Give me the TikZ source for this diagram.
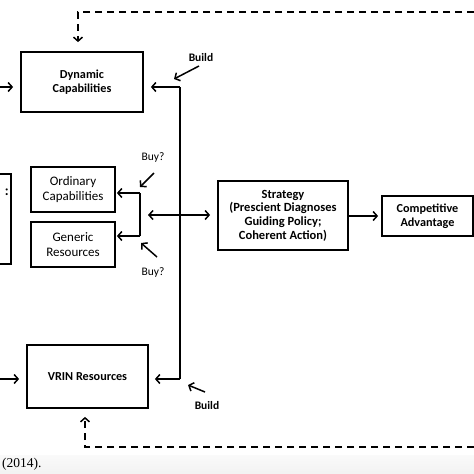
\documentclass[tikz,border=0pt]{standalone}
\usepackage{fontspec}
\setmainfont{Carlito}
\newfontfamily\capfont{Liberation Serif}
\usetikzlibrary{arrows.meta}
\begin{document}
\begin{tikzpicture}[x=1pt,y=-1pt,
  boxb/.style={draw,line width=1.8pt,align=center,inner sep=0pt,font=\fontsize{12.2}{14}\selectfont\bfseries},
  boxr/.style={draw,line width=1.8pt,align=center,inner sep=0pt,font=\fontsize{13}{15}\selectfont},
  lbl/.style={font=\fontsize{11.5}{13}\selectfont\bfseries,inner sep=0pt},
  conn/.style={line width=1.5pt,-{Straight Barb[length=4pt,width=9pt,line width=1.5pt]}},
  dconn/.style={conn,dash pattern=on 7pt off 5pt},
  plain/.style={line width=1.5pt}]
\useasboundingbox (0,0) rectangle (474,474);
\clip (0,0) rectangle (474,474);
\fill[white] (0,0) rectangle (474,474);
\shade[top color=gray!4,bottom color=gray!10] (0,455) rectangle (474,474);
% boxes
\node[boxb,minimum width=122pt,minimum height=60pt] (dc) at (82,82) {Dynamic\\Capabilities};
\node[boxr,minimum width=84pt,minimum height=45pt] (oc) at (73,189.5) {Ordinary\\Capabilities};
\node[boxr,minimum width=84pt,minimum height=45pt] (gr) at (73,244.5) {Generic\\Resources};
\node[boxb,minimum width=130pt,minimum height=69pt,font=\fontsize{12.5}{13.7}\selectfont\bfseries] (st) at (283,215.5) {Strategy\\(Prescient Diagnoses\\Guiding Policy;\\Coherent Action)};
\node[boxb,minimum width=91pt,minimum height=40pt] (ca) at (427.5,216) {Competitive\\Advantage};
\node[boxb,minimum width=121pt,minimum height=63pt] (vr) at (87.5,376.5) {VRIN Resources};
\node[boxb,minimum width=102pt,minimum height=90pt] (lb) at (-40,219) {};
\node[lbl,anchor=east,font=\fontsize{14}{14}\selectfont\bfseries] (lbt) at (9,192) {:};
% labels
\node[lbl] (b1) at (201,58) {Build};
\node[lbl] (b2) at (207,406) {Build};
\node[lbl,font=\fontsize{11.5}{13}\selectfont] (y1) at (153,157) {Buy?};
\node[lbl,font=\fontsize{11.5}{13}\selectfont] (y2) at (153,272) {Buy?};
\node[anchor=west,inner sep=0pt,font=\capfont\fontsize{13.5}{14}\selectfont] (cap) at (2,464) {(2014).};
% coordinates
\coordinate (l1) at (0,87);
\coordinate (l2) at (0,379);
\coordinate (vt) at (180,87);
\coordinate (vb) at (180,379);
\coordinate (bt) at (140,193);
\coordinate (bb) at (140,236);
\coordinate (bm) at (140,215);
\coordinate (dt1) at (474,12);
\coordinate (dt2) at (78,12);
\coordinate (db1) at (474,447);
\coordinate (db2) at (85,447);
% connectors
\draw[conn,shorten >=7pt] (l1) -- (l1 -| dc.west);
\draw[conn,shorten >=7pt] (l2) -- (l2 -| vr.west);
\draw[plain] (vt) -- (vb);
\draw[conn,shorten >=7pt] (vt) -- (vt -| dc.east);
\draw[conn,shorten >=6pt] (vb) -- (vb -| vr.east);
\draw[plain] (bt) -- (bb);
\draw[conn,shorten >=1pt] (bt) -- (bt -| oc.east);
\draw[conn,shorten >=1pt] (bb) -- (bb -| gr.east);
\draw[line width=1.5pt,{Straight Barb[length=4pt,width=9pt,line width=1.5pt]}-{Straight Barb[length=4pt,width=9pt,line width=1.5pt]},shorten <=8pt,shorten >=7pt] (bm) -- (bm -| st.west);
\draw[conn,shorten >=3pt] (st.east |- ca.west) -- (ca.west);
\draw[dconn,shorten >=9pt] (dt1) -- (dt2) -- (dt2 |- dc.north);
\draw[dconn,shorten >=8pt] (db1) -- (db2) -- (db2 |- vr.south);
% small pointer arrows
\draw[conn] (199,66) -- (174,79);
\draw[conn] (205,392) -- (188,385);
\draw[conn] (154,173) -- (140,187);
\draw[conn] (157,257) -- (141,243);
\end{tikzpicture}
\end{document}
